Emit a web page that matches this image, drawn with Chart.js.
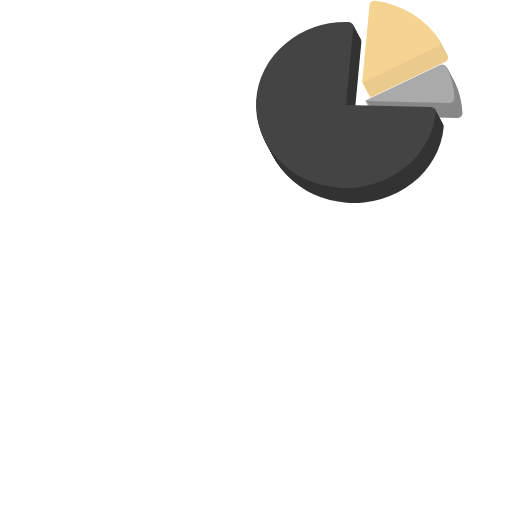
<!DOCTYPE html>
<html>
<head>
<meta charset="utf-8">
<style>
  html, body { margin: 0; padding: 0; background: #ffffff; }
  #wrap { width: 512px; height: 512px; position: relative; }
</style>
<script src="https://cdn.jsdelivr.net/npm/chart.js@4.4.1/dist/chart.umd.min.js"></script>
</head>
<body>
<div id="wrap"><canvas id="c" width="512" height="512"></canvas></div>
<script>
// ---- data ----
const categories = ['A', 'B', 'C'];
const values = [16, 8, 76];
const faceColors = ['#F5D491', '#AAAAAA', '#444444'];
const depthColors = ['#EBCB8D', '#888888', '#333333'];
const sliceOffsets = [29, 19, 0];

// ---- 3D-look plugin: draws the library's own arc elements (exploded, tilted, extruded) ----
const DEPTH_X = 8, DEPTH_Y = 15, STEPS = 16, SQUASH = 0.922;
const pie3dPlugin = {
  id: 'pie3d',
  beforeDatasetsDraw(chart) {
    const ctx = chart.ctx;
    const meta = chart.getDatasetMeta(0);
    const ca = chart.chartArea;
    const cx = (ca.left + ca.right) / 2, cy = (ca.top + ca.bottom) / 2;
    const drawArc = (arc, i, color) => {
      const mid = (arc.startAngle + arc.endAngle) / 2;
      const fake = Object.create(arc);
      fake.options = Object.assign({}, arc.options, { backgroundColor: color });
      ctx.save();
      ctx.translate(cx, cy); ctx.scale(1, SQUASH); ctx.translate(-cx, -cy);
      ctx.translate(Math.cos(mid) * sliceOffsets[i], Math.sin(mid) * sliceOffsets[i]);
      fake.draw(ctx);
      ctx.restore();
    };
    for (let s = STEPS; s >= 1; s--) {
      meta.data.forEach((arc, i) => {
        ctx.save();
        ctx.translate(DEPTH_X * s / STEPS, DEPTH_Y * s / STEPS);
        drawArc(arc, i, depthColors[i]);
        ctx.restore();
      });
    }
    meta.data.forEach((arc, i) => drawArc(arc, i, faceColors[i]));
    return false;
  }
};

new Chart(document.getElementById('c'), {
  type: 'pie',
  data: {
    labels: categories,
    datasets: [{
      data: values,
      backgroundColor: faceColors,
      borderColor: '#ffffff',
      borderWidth: 0,
      borderRadius: 5,
      offset: 0
    }]
  },
  options: {
    responsive: true,
    maintainAspectRatio: false,
    animation: false,
    events: [],
    rotation: 5,
    radius: 90,
    layout: { padding: { left: 180, right: 0, top: 0, bottom: 302 } },
    plugins: {
      legend: { display: false },
      tooltip: { enabled: false }
    }
  },
  plugins: [pie3dPlugin]
});
</script>
</body>
</html>
